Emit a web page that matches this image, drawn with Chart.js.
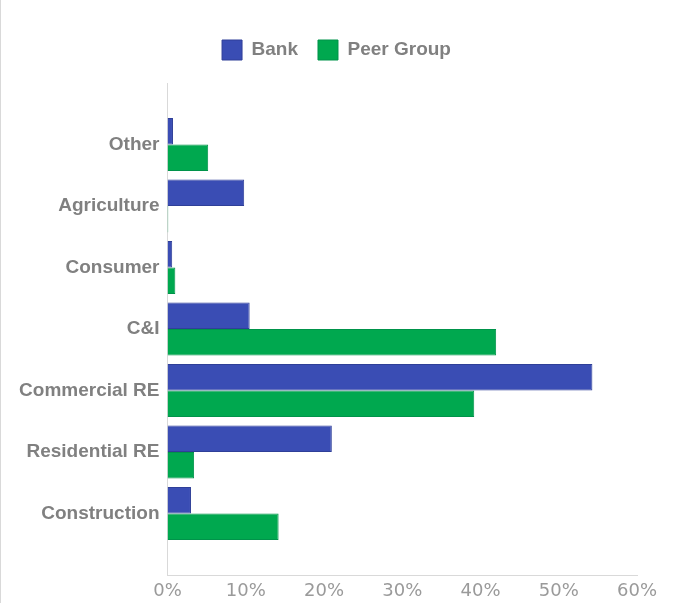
<!DOCTYPE html>
<html>
<head>
<meta charset="utf-8">
<script src="https://cdn.jsdelivr.net/npm/chart.js@4/dist/chart.umd.min.js"></script>
<style>
  html, body { margin: 0; padding: 0; background: #fff; }
  #wrap { position: relative; width: 673px; height: 603px; }
  #edge { position: absolute; left: 0; top: 0; width: 1px; height: 603px; background: #d9d9d9; }
</style>
</head>
<body>
<div id="wrap">
  <canvas id="loanChart" width="673" height="603"></canvas>
  <div id="edge"></div>
</div>
<script>
const categories = ['Other', 'Agriculture', 'Consumer', 'C&I', 'Commercial RE', 'Residential RE', 'Construction'];
const bankShare = [0.7, 9.8, 0.6, 10.5, 54.3, 21.0, 3.0];
const peerShare = [5.2, 0.1, 1.0, 42.0, 39.2, 3.4, 14.2];
const xTicks = [0, 10, 20, 30, 40, 50, 60];

// blank slots above and below leave the same breathing room the axis had
const labels = [''].concat(categories, ['']);
const pad = arr => [null].concat(arr, [null]);

const labelFont = { family: 'Liberation Sans, Arial, sans-serif', size: 19, weight: 'bold' };

// push the plot a bit further below the legend
const legendGap = {
    id: 'legendGap',
    beforeInit(chart) {
        const fit = chart.legend.fit;
        chart.legend.fit = function () {
            fit.bind(chart.legend)();
            this.height += 13;
        };
    }
};

const ctx = document.getElementById('loanChart').getContext('2d');
const loanChart = new Chart(ctx, {
    type: 'bar',
    data: {
        labels: labels,
        datasets: [
            { label: 'Bank', data: pad(bankShare), backgroundColor: '#3a4db4', borderColor: '#2f3f98', borderWidth: 1 },
            { label: 'Peer Group', data: pad(peerShare), backgroundColor: '#00a84f', borderColor: '#00934a', borderWidth: 1 }
        ]
    },
    plugins: [legendGap],
    options: {
        indexAxis: 'y',
        responsive: false,
        animation: false,
        layout: { padding: { top: 20, right: 0, bottom: 0, left: 0 } },
        datasets: { bar: { categoryPercentage: 0.86, barPercentage: 1 } },
        plugins: {
            legend: {
                labels: { boxWidth: 20, boxHeight: 20, padding: 20, color: '#808080', font: labelFont }
            },
            tooltip: { enabled: false }
        },
        scales: {
            x: {
                min: 0,
                max: 60,
                afterBuildTicks: axis => { axis.ticks = xTicks.map(v => ({ value: v })); },
                afterFit: axis => { axis.height = 28; },
                grid: { display: false, drawTicks: false },
                border: { display: true, color: '#d9d9d9' },
                ticks: {
                    padding: 6,
                    color: '#9a9a9a',
                    font: { family: 'DejaVu Sans, Verdana, sans-serif', size: 18 },
                    callback: v => v + '%'
                }
            },
            y: {
                offset: false,
                afterFit: axis => { axis.width = 167.5; },
                grid: { display: false, drawTicks: false },
                border: { display: true, color: '#d9d9d9' },
                ticks: { padding: 8, color: '#808080', font: labelFont }
            },
            // empty margin on the right of the plot
            yRight: {
                type: 'category',
                position: 'right',
                afterFit: axis => { axis.width = 36; },
                grid: { display: false, drawTicks: false },
                border: { display: false },
                ticks: { display: false }
            }
        }
    }
});
</script>
</body>
</html>
